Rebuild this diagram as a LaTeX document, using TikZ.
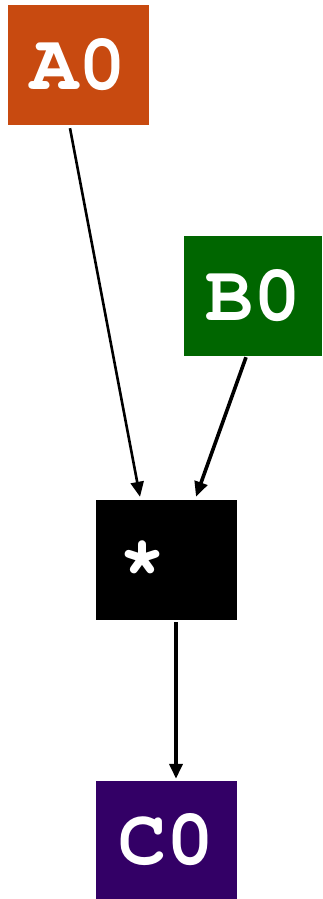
\documentclass[tikz,border=0pt]{standalone}
\usepackage[T1]{fontenc}
\usetikzlibrary{arrows.meta}
\definecolor{cA}{HTML}{C84A10}
\definecolor{cB}{HTML}{006600}
\definecolor{cC}{HTML}{330066}
\tikzset{
  box/.style={rectangle, inner sep=0pt, minimum width=141pt, minimum height=120pt,
    text=white, font=\fontencoding{T1}\fontfamily{pcr}\fontseries{b}\fontsize{80}{80}\selectfont},
  conn/.style={draw=black, -{Triangle[length=15pt,width=13pt]}}
}
\begin{document}
\begin{tikzpicture}[x=1pt,y=-1pt]
\useasboundingbox (0,0) rectangle (322,899);
\node[box, fill=cA] (a0) at (78.5,65) {A0};
\node[box, fill=cB, minimum width=138pt] (b0) at (253,296) {B0};
\node[box, fill=black] (star) at (166.5,560) {*\phantom{*}};
\node[box, fill=cC, minimum height=118pt] (c0) at (166.5,840) {C0};
\draw[conn, line width=2.6pt] ([xshift=-8.5pt,yshift=-3pt]a0.south) -- ([xshift=-26.5pt,yshift=3pt]star.north);
\draw[conn, line width=3.6pt] ([xshift=-7pt,yshift=-1pt]b0.south) -- ([xshift=29.5pt,yshift=3pt]star.north);
\draw[conn, line width=3.6pt] ([xshift=9.5pt,yshift=-2pt]star.south) -- ([xshift=9.5pt,yshift=2pt]c0.north);
\end{tikzpicture}
\end{document}
